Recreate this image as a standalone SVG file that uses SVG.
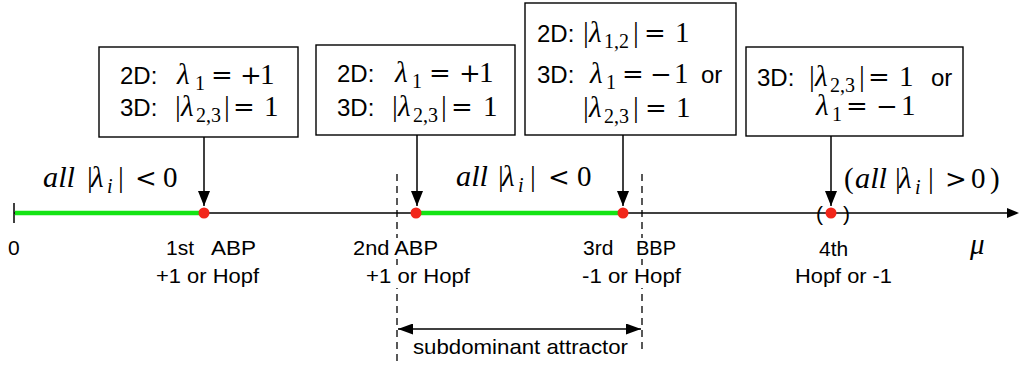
<svg xmlns="http://www.w3.org/2000/svg" width="1019" height="367" viewBox="0 0 1019 367">
<style>
.s{font-family:"Liberation Sans",Arial,sans-serif;font-size:24px;fill:#000}
.l{font-family:"Liberation Sans",Arial,sans-serif;font-size:21px;fill:#000}
.m{font-family:"Liberation Serif","Times New Roman",serif;font-size:29px;fill:#000}
.op{font-family:"DejaVu Serif",serif;font-size:26px;fill:#000}
.i{font-style:italic}
.sub{font-family:"Liberation Serif","Times New Roman",serif;font-size:20px;fill:#000}
.box{fill:#fff;stroke:#000;stroke-width:1.4}
.ln{stroke:#000;stroke-width:1.5;fill:none}
.green{stroke:#14e414;stroke-width:4.5;fill:none}
.dash{stroke:#000;stroke-width:1.3;stroke-dasharray:7 5;fill:none}
.dot{fill:#f2261a}
.bg{fill:#fff}
</style>
<defs>
<marker id="ah" markerUnits="userSpaceOnUse" markerWidth="15" markerHeight="12" refX="15" refY="6" orient="auto-start-reverse"><path d="M0,0 L15,6 L0,12 z" fill="#000"/></marker>
<marker id="ah2" markerUnits="userSpaceOnUse" markerWidth="15" markerHeight="11" refX="15" refY="5.5" orient="auto-start-reverse"><path d="M0,0 L15,5.5 L0,11 z" fill="#000"/></marker>
</defs>

<g id="axis">
<line class="ln" x1="14" y1="213" x2="1008" y2="213"/>
<polygon points="1007,208 1019,213 1007,218" fill="#000"/>
<line class="ln" x1="14" y1="203" x2="14" y2="223"/>
<line class="green" x1="15" y1="213" x2="202" y2="213"/>
<line class="green" x1="416" y1="213" x2="621" y2="213"/>
<line class="dash" x1="397" y1="174" x2="397" y2="362"/>
<line class="dash" x1="642" y1="174" x2="642" y2="352"/>
<text class="m i" x="970" y="254" font-size="35">μ</text>
</g>

<g id="connectors">
<line class="ln" x1="204" y1="137" x2="204" y2="206" marker-end="url(#ah)"/>
<line class="ln" x1="417" y1="135" x2="417" y2="206" marker-end="url(#ah)"/>
<line class="ln" x1="623" y1="135" x2="623" y2="206" marker-end="url(#ah)"/>
<line class="ln" x1="831" y1="136" x2="831" y2="206" marker-end="url(#ah)"/>
<line class="ln" x1="398" y1="329" x2="641" y2="329" marker-start="url(#ah2)" marker-end="url(#ah2)"/>
</g>

<g id="points">
<circle class="dot" cx="204" cy="213" r="5.5"/>
<circle class="dot" cx="416" cy="213" r="5.5"/>
<circle class="dot" cx="623" cy="213" r="5.5"/>
<circle class="dot" cx="831" cy="213" r="5.5"/>
<text class="l" x="816" y="221" font-size="19">(</text>
<text class="l" x="843" y="221" font-size="19">)</text>
</g>

<g id="box1">
<rect class="box" x="99" y="47" width="199" height="90"/>
<text class="s" x="120" y="84">2D:</text>
<text class="m i" x="177" y="84">λ</text><text class="sub" x="195" y="90">1</text>
<text class="op" x="211" y="84">=</text><text class="op" x="240" y="84">+</text><text class="m" x="260" y="84">1</text>
<text class="s" x="120" y="116">3D:</text>
<text class="m" x="175" y="116">|</text><text class="m i" x="181" y="116">λ</text><text class="sub" x="196" y="122">2,3</text><text class="m" x="224" y="116">|</text>
<text class="op" x="233" y="116">=</text><text class="m" x="264" y="116">1</text>
</g>

<g id="box2">
<rect class="box" x="316" y="45" width="199" height="90"/>
<text class="s" x="337" y="82">2D:</text>
<text class="m i" x="395" y="82">λ</text><text class="sub" x="412" y="88">1</text>
<text class="op" x="429" y="82">=</text><text class="op" x="459" y="82">+</text><text class="m" x="479" y="82">1</text>
<text class="s" x="337" y="116">3D:</text>
<text class="m" x="392" y="116">|</text><text class="m i" x="398" y="116">λ</text><text class="sub" x="413" y="122">2,3</text><text class="m" x="441" y="116">|</text>
<text class="op" x="451" y="116">=</text><text class="m" x="483" y="116">1</text>
</g>

<g id="box3">
<rect class="box" x="525" y="3" width="211" height="132"/>
<text class="s" x="537" y="42">2D:</text>
<text class="m" x="583" y="42">|</text><text class="m i" x="589" y="42">λ</text><text class="sub" x="604" y="48">1,2</text><text class="m" x="633" y="42">|</text>
<text class="op" x="644" y="42">=</text><text class="m" x="675" y="42">1</text>
<text class="s" x="537" y="83">3D:</text>
<text class="m i" x="590" y="83">λ</text><text class="sub" x="606" y="89">1</text>
<text class="op" x="622" y="83">=</text><text class="op" x="650" y="83">−</text><text class="m" x="674" y="83">1</text>
<text class="s" x="701" y="83">or</text>
<text class="m" x="583" y="117">|</text><text class="m i" x="589" y="117">λ</text><text class="sub" x="604" y="123">2,3</text><text class="m" x="633" y="117">|</text>
<text class="op" x="645" y="117">=</text><text class="m" x="676" y="117">1</text>
</g>

<g id="box4">
<rect class="box" x="746" y="47" width="217" height="89"/>
<text class="s" x="757" y="86">3D:</text>
<text class="m" x="809" y="86">|</text><text class="m i" x="815" y="86">λ</text><text class="sub" x="830" y="92">2,3</text><text class="m" x="859" y="86">|</text>
<text class="op" x="868" y="86">=</text><text class="m" x="899" y="86">1</text>
<text class="s" x="931" y="86">or</text>
<text class="m i" x="816" y="115">λ</text><text class="sub" x="832" y="121">1</text>
<text class="op" x="846" y="115">=</text><text class="op" x="876" y="115">−</text><text class="m" x="901" y="115">1</text>
</g>

<g id="region-labels">
<text class="m i" x="43" y="187" textLength="32" lengthAdjust="spacingAndGlyphs">all</text>
<text class="m" x="87" y="187">|</text><text class="m i" x="91" y="187">λ</text><text class="sub i" x="107" y="193">i</text><text class="m" x="118" y="187">|</text>
<text class="op" x="135" y="187">&lt;</text><text class="m" x="163" y="187">0</text>

<text class="m i" x="456" y="186" textLength="32" lengthAdjust="spacingAndGlyphs">all</text>
<text class="m" x="498" y="186">|</text><text class="m i" x="502" y="186">λ</text><text class="sub i" x="518" y="192">i</text><text class="m" x="530" y="186">|</text>
<text class="op" x="548" y="186">&lt;</text><text class="m" x="577" y="186">0</text>

<text class="m" x="844" y="188">(</text>
<text class="m i" x="855" y="188" textLength="32" lengthAdjust="spacingAndGlyphs">all</text>
<text class="m" x="895" y="188">|</text><text class="m i" x="899" y="188">λ</text><text class="sub i" x="915" y="194">i</text><text class="m" x="928" y="188">|</text>
<text class="op" x="945" y="188">&gt;</text><text class="m" x="971" y="188">0</text>
<text class="m" x="990" y="188">)</text>
</g>

<g id="point-labels">
<rect class="bg" x="350" y="238" width="92" height="21"/>
<rect class="bg" x="363" y="266" width="110" height="22"/>
<rect class="bg" x="580" y="238" width="99" height="21"/>
<rect class="bg" x="579" y="266" width="105" height="22"/>
<text class="l" x="8" y="255">0</text>
<text class="l" x="166" y="255">1st</text>
<text class="l" x="211" y="255" textLength="45" lengthAdjust="spacingAndGlyphs">ABP</text>
<text class="l" x="156" y="283" textLength="103" lengthAdjust="spacingAndGlyphs">+1 or Hopf</text>
<text class="l" x="353" y="255" textLength="85" lengthAdjust="spacingAndGlyphs">2nd ABP</text>
<text class="l" x="366" y="283" textLength="104" lengthAdjust="spacingAndGlyphs">+1 or Hopf</text>
<text class="l" x="583" y="255">3rd</text>
<text class="l" x="636" y="255" textLength="40" lengthAdjust="spacingAndGlyphs">BBP</text>
<text class="l" x="582" y="283" textLength="99" lengthAdjust="spacingAndGlyphs">-1 or Hopf</text>
<text class="l" x="819" y="256">4th</text>
<text class="l" x="795" y="283" textLength="97" lengthAdjust="spacingAndGlyphs">Hopf or -1</text>
<text class="l" x="413" y="354" textLength="215" lengthAdjust="spacingAndGlyphs">subdominant attractor</text>
</g>
</svg>
